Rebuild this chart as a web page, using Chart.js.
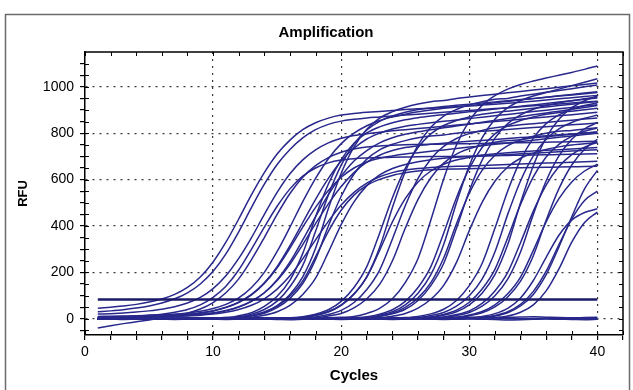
<!DOCTYPE html>
<html>
<head>
<meta charset="utf-8">
<script src="https://cdn.jsdelivr.net/npm/chart.js@4/dist/chart.umd.min.js"></script>
<style>
  html, body { margin: 0; padding: 0; background: #fff; }
  #wrap { width: 633px; height: 390px; }
</style>
</head>
<body>
<div id="wrap"><canvas id="amp"></canvas></div>
<script>
// cycle numbers and tick positions
const cycles = [1,2,3,4,5,6,7,8,9,10,11,12,13,14,15,16,17,18,19,20,21,22,23,24,25,26,27,28,29,30,31,32,33,34,35,36,37,38,39,40];
const xTicks = [0,2,4,6,8,10,12,14,16,18,20,22,24,26,28,30,32,34,36,38,40,42];
const yTicks = [-50,0,50,100,150,200,250,300,350,400,450,500,550,600,650,700,750,800,850,900,950,1000,1050,1100];

// threshold + baseline
const threshold = [83,83,83,83,83,83,83,83,83,83,83,83,83,83,83,83,83,83,83,83,83,83,83,83,83,83,83,83,83,83,83,83,83,83,83,83,83,83,83,83];
const baseline = [0,0,0,0,0,0,0,0,0,0,0,0,0,0,0,0,0,0,0,0,0,0,0,0,0,0,0,0,0,0,0,0,0,0,0,0,0,0,0,0];

// RFU per cycle (early wells)
const a1 = [45,50,55,62,72,85,105,135,180,245,330,430,535,630,710,770,815,845,865,878,885,890,894,898,902,905,908,911,914,917,921,925,929,933,938,943,948,953,958,963];
const a2 = [30,34,39,46,55,68,86,112,150,205,280,375,480,580,665,730,780,815,838,852,860,866,870,874,878,882,886,890,894,898,902,906,910,914,918,922,926,930,934,938];
const a3 = [20,22,25,29,34,41,52,68,92,130,185,260,350,450,545,625,685,728,758,778,790,798,804,810,815,820,825,830,835,840,845,850,855,860,865,870,875,880,885,890];
const a4 = [5,6,8,11,15,20,28,40,60,92,140,210,300,395,485,560,615,650,672,684,690,693,695,696,697,698,699,700,700,701,702,703,704,705,706,707,708,709,710,711];
const a5 = [-40,-30,-21,-13,-5,3,12,24,42,70,112,172,255,350,450,540,610,660,695,718,732,740,745,748,750,751,752,753,754,755,756,757,758,759,760,761,762,763,764,765];

const b1 = [10,11,12,13,15,17,20,25,32,44,62,90,135,200,290,395,505,605,690,755,800,832,855,870,882,892,900,907,913,919,925,931,937,943,949,955,961,967,973,979];
const b2 = [8,9,10,11,12,14,16,20,26,35,50,72,105,155,225,315,415,515,605,680,735,775,800,818,830,838,845,851,857,863,869,875,881,887,893,899,905,911,917,923];
const b3 = [5,6,7,8,9,10,12,15,19,26,36,52,76,112,165,235,320,410,495,570,630,675,705,725,738,746,752,757,761,765,769,773,777,781,785,789,793,797,801,805];
const b4 = [3,4,5,6,7,8,10,12,15,20,28,40,58,86,128,185,258,340,420,490,545,585,612,630,641,648,652,655,657,659,661,663,665,667,669,671,673,675,677,679];
const b5 = [4,5,6,7,8,9,11,14,18,24,34,50,75,112,168,245,340,440,535,615,680,725,758,780,795,806,815,823,831,839,847,855,863,871,879,887,895,903,911,919];
const b6 = [6,7,8,9,10,12,14,18,24,33,48,70,103,152,220,305,395,480,553,610,650,676,692,702,710,716,722,728,734,740,746,752,758,764,770,776,782,788,794,800];

const c1 = [0,0,1,1,1,1,2,2,2,3,4,13,26,53,97,167,282,440,581,686,757,801,827,845,858,867,874,880,886,892,898,904,910,916,922,928,934,940,946,952];
const c2 = [0,0,0,1,1,1,1,2,2,3,5,9,20,40,76,138,230,377,534,662,754,814,851,874,890,902,909,915,920,925,930,935,940,945,950,955,960,965,970,975];
const c3 = [0,0,0,0,1,1,1,1,2,2,3,4,12,24,48,88,152,256,400,528,624,688,728,752,768,780,788,792,800,804,808,812,816,820,824,828,832,836,840,844];
const c4 = [0,0,0,0,0,1,1,1,1,2,2,4,7,15,30,58,105,175,287,406,504,574,620,648,665,677,686,692,696,699,702,705,708,711,714,717,720,723,726,729];
const c5 = [0,0,0,0,1,1,1,1,2,3,5,7,14,28,54,98,163,267,377,468,533,575,601,618,629,637,642,645,646,647,648,649,650,651,652,653,654,655,656,657];
const c6 = [0,0,0,0,1,1,1,1,2,3,4,5,14,29,57,105,181,304,475,627,741,817,865,893,912,926,936,941,950,956,962,968,974,980,986,992,998,1004,1010,1016];

const d1 = [0,0,0,0,0,0,1,1,1,1,1,1,2,2,3,4,9,20,39,75,135,225,369,522,648,738,797,833,855,870,882,889,895,901,907,913,919,925,931,937];
const d2 = [0,0,0,0,0,0,0,1,1,1,1,1,2,2,2,3,5,14,29,58,106,182,307,480,634,749,826,874,902,922,936,946,950,960,968,976,984,992,1000,1008];
const d3 = [0,0,0,0,0,0,0,0,1,1,1,1,1,2,2,3,4,8,18,36,70,126,210,344,487,605,689,743,777,798,812,823,830,836,841,846,851,856,861,866];
const d4 = [0,0,0,0,0,0,0,0,0,1,1,1,1,1,2,2,3,4,12,23,47,86,148,250,390,515,608,671,710,733,749,761,768,772,780,785,790,795,800,805];
const d5 = [0,0,0,0,0,0,0,1,1,1,1,1,2,2,3,4,7,16,31,60,108,180,295,418,518,590,637,666,684,696,706,711,716,720,723,726,729,732,735,738];

const e1 = [0,0,0,0,0,0,0,0,0,0,1,1,1,1,1,2,2,3,4,6,10,23,45,86,156,260,426,603,749,853,920,962,990,1010,1025,1038,1050,1062,1075,1090];
const e2 = [0,0,0,0,0,0,0,0,0,0,0,0,1,1,1,1,1,2,2,3,5,9,20,39,75,135,225,369,522,648,738,797,833,855,870,882,889,895,901,907];
const e3 = [0,0,0,0,0,0,0,0,0,0,0,0,0,1,1,1,1,1,2,2,3,4,12,25,49,90,156,262,410,541,640,705,746,771,787,800,808,812,818,824];
const e4 = [0,0,0,0,0,0,0,0,0,0,0,0,0,0,1,1,1,1,2,2,3,4,10,21,41,79,143,238,390,551,684,779,841,879,903,919,931,940,948,956];
const e5 = [0,0,0,0,0,0,0,0,0,0,0,0,0,0,0,1,1,1,1,2,2,3,4,11,23,46,84,144,243,380,502,593,654,692,714,730,741,749,754,760];
const e6 = [0,0,0,0,0,0,0,0,0,0,0,0,0,1,1,1,1,2,2,3,4,5,15,30,60,110,190,320,500,660,780,860,910,940,960,975,990,1005,1020,1035];

const f1 = [0,0,0,0,0,0,0,0,0,0,0,0,0,0,0,0,0,1,1,1,1,2,2,3,5,10,21,41,79,143,238,390,551,684,779,841,879,903,919,931];
const f2 = [0,0,0,0,0,0,0,0,0,0,0,0,0,0,0,0,0,0,1,1,1,1,2,2,3,5,14,27,54,99,171,288,450,594,702,774,819,846,864,878];
const f3 = [0,0,0,0,0,0,0,0,0,0,0,0,0,0,0,0,0,0,0,1,1,1,1,2,2,3,9,19,37,71,128,213,349,493,612,697,752,786,808,822];
const f4 = [0,0,0,0,0,0,0,0,0,0,0,0,0,0,0,0,0,0,0,1,1,1,1,2,2,3,5,15,30,60,110,190,320,500,660,780,860,910,940,960];
const f5 = [0,0,0,0,0,0,0,0,0,0,0,0,0,0,0,0,0,0,0,0,1,1,1,1,2,2,3,8,18,34,66,120,200,328,464,576,656,708,740,760];
const f6 = [0,0,0,0,0,0,0,0,0,0,0,0,0,0,0,0,0,0,0,0,1,1,1,1,2,2,3,5,14,27,54,99,171,288,450,594,702,774,819,846];
const f7 = [0,0,0,0,0,0,0,0,0,0,0,0,0,0,0,0,0,0,0,0,0,1,1,1,1,2,2,3,7,16,31,60,108,180,295,418,518,590,637,666];
const f8 = [0,0,0,0,0,0,0,0,0,0,0,0,0,0,0,0,0,0,0,0,0,1,1,1,1,2,2,3,4,13,26,51,94,162,272,425,561,663,731,774];

const g1 = [0,0,0,0,0,0,0,0,0,0,0,0,0,0,0,0,0,0,0,0,0,0,0,1,1,1,1,2,3,4,10,22,45,90,165,265,360,425,458,474];
const g2 = [0,0,0,0,0,0,0,0,0,0,0,0,0,0,0,0,0,0,0,0,0,0,0,0,1,1,1,2,3,4,6,14,30,62,118,205,320,430,510,550];
const g3 = [0,0,0,0,0,0,0,0,0,0,0,0,0,0,0,0,0,0,0,0,0,0,0,0,1,1,1,2,2,3,5,12,26,55,105,190,310,440,560,640];
const g4 = [0,0,0,0,0,0,0,0,0,0,0,0,0,0,0,0,0,0,0,0,0,0,0,0,0,1,1,1,2,3,3,5,12,28,60,120,215,330,415,460];

// wells that never came up
const n1 = [2,1,0,1,2,1,0,-1,0,1,2,1,0,1,0,-1,0,1,2,1,0,1,2,3,1,0,-1,0,1,2,4,3,1,0,1,2,1,0,1,2];
const n2 = [-2,-1,-3,-2,-1,-2,-3,-2,-1,-2,-3,-2,-1,-2,-3,-4,-2,-1,-2,-3,-2,-1,-2,-3,-2,-1,-2,-3,-2,-1,-2,-3,-5,-4,-2,-1,-2,-3,-4,-2];
const n3 = [4,3,2,3,4,3,2,3,4,3,2,3,4,3,2,3,4,5,4,3,2,3,4,5,4,3,4,5,6,7,6,5,6,8,9,7,5,4,5,6];

const wells = [a1,a2,a3,a4,a5,b1,b2,b3,b4,b5,b6,c1,c2,c3,c4,c5,c6,d1,d2,d3,d4,d5,
               e1,e2,e3,e4,e5,e6,f1,f2,f3,f4,f5,f6,f7,f8,g1,g2,g3,g4,n1,n2,n3];

function toPoints(arr) {
    return cycles.map((c, i) => ({ x: c, y: arr[i] }));
}

const lineColor = '#28288c';
const datasets = [{
    label: 'Threshold',
    data: toPoints(threshold),
    borderColor: '#1a1a68',
    borderWidth: 2.5,
    tension: 0
}];
wells.forEach((w, i) => {
    datasets.push({
        label: 'Well ' + (i + 1),
        data: toPoints(w),
        borderColor: lineColor,
        borderWidth: 1.5,
        cubicInterpolationMode: 'monotone'
    });
});
datasets.push({
    label: 'Baseline',
    data: toPoints(baseline),
    borderColor: '#5aa0d8',
    borderWidth: 1.5
});

const tickFont = { family: "'Liberation Sans', Arial, sans-serif", size: 14 };

// frame, inner tick marks, title
const framePlugin = {
    id: 'frame',
    beforeDraw(chart) {
        const ctx = chart.ctx;
        ctx.save();
        ctx.fillStyle = '#fff';
        ctx.fillRect(0, 0, chart.width, chart.height);
        ctx.strokeStyle = '#6b6b6b';
        ctx.lineWidth = 1.5;
        ctx.strokeRect(5.5, 14.5, 624, 400);
        ctx.restore();
    },
    afterDraw(chart) {
        const { ctx, chartArea: a, scales: { x, y } } = chart;
        ctx.save();
        ctx.strokeStyle = '#000';
        ctx.lineWidth = 1.5;
        ctx.beginPath();
        ctx.moveTo(a.left, a.top);
        ctx.lineTo(a.right, a.top);
        ctx.lineTo(a.right, a.bottom);
        ctx.stroke();

        ctx.lineWidth = 1;
        ctx.beginPath();
        xTicks.forEach(v => {
            const px = Math.round(x.getPixelForValue(v)) + 0.5;
            ctx.moveTo(px, a.bottom); ctx.lineTo(px, a.bottom - 4);
            ctx.moveTo(px, a.top); ctx.lineTo(px, a.top + 4);
        });
        yTicks.forEach(v => {
            const py = Math.round(y.getPixelForValue(v)) + 0.5;
            ctx.moveTo(a.left, py); ctx.lineTo(a.left + 4, py);
            ctx.moveTo(a.right, py); ctx.lineTo(a.right - 4, py);
        });
        ctx.stroke();

        ctx.fillStyle = '#000';
        ctx.font = "bold 15px 'Liberation Sans', Arial, sans-serif";
        ctx.textAlign = 'center';
        ctx.textBaseline = 'middle';
        ctx.fillText('Amplification', 326, 33);
        ctx.restore();
    }
};

const chart = new Chart(document.getElementById('amp'), {
    type: 'line',
    data: { datasets: datasets },
    options: {
        responsive: true,
        maintainAspectRatio: false,
        animation: false,
        events: [],
        layout: { padding: { left: 6, right: 10, top: 52, bottom: 0 } },
        elements: { point: { radius: 0 } },
        plugins: {
            legend: { display: false },
            tooltip: { enabled: false }
        },
        scales: {
            x: {
                type: 'linear',
                min: 0,
                max: 42,
                afterBuildTicks: s => { s.ticks = xTicks.map(v => ({ value: v })); },
                afterFit: s => { s.height = 55; },
                ticks: {
                    autoSkip: false,
                    maxRotation: 0,
                    padding: 4,
                    color: '#000',
                    font: tickFont,
                    callback: v => (v % 10 === 0 && v <= 40 ? v : '')
                },
                grid: {
                    color: c => (c.tick && c.tick.value % 10 === 0 && c.tick.value > 0 && c.tick.value <= 40 ? '#3a3a3a' : 'rgba(0,0,0,0)'),
                    tickColor: '#000',
                    tickLength: 5,
                    lineWidth: 1.2
                },
                border: { color: '#000', width: 1.5, dash: [2, 5] },
                title: {
                    display: true,
                    text: 'Cycles',
                    color: '#000',
                    font: { family: "'Liberation Sans', Arial, sans-serif", size: 15, weight: 'bold' },
                    padding: { top: 0, bottom: 5 }
                }
            },
            y: {
                min: -70,
                max: 1150,
                afterBuildTicks: s => { s.ticks = yTicks.map(v => ({ value: v })); },
                afterFit: s => { s.width = 79; },
                ticks: {
                    autoSkip: false,
                    padding: 6,
                    color: '#000',
                    font: tickFont,
                    callback: v => (v % 200 === 0 && v >= 0 && v <= 1000 ? v : '')
                },
                grid: {
                    color: c => (c.tick && c.tick.value % 200 === 0 && c.tick.value >= 0 && c.tick.value <= 1000 ? '#3a3a3a' : 'rgba(0,0,0,0)'),
                    tickColor: '#000',
                    tickLength: 5,
                    lineWidth: 1.2
                },
                border: { color: '#000', width: 1.5, dash: [2, 5] },
                title: {
                    display: true,
                    text: 'RFU',
                    color: '#000',
                    font: { family: "'Liberation Sans', Arial, sans-serif", size: 13, weight: 'bold' },
                    padding: { top: 10, bottom: 0 }
                }
            }
        }
    },
    plugins: [framePlugin]
});
</script>
</body>
</html>
